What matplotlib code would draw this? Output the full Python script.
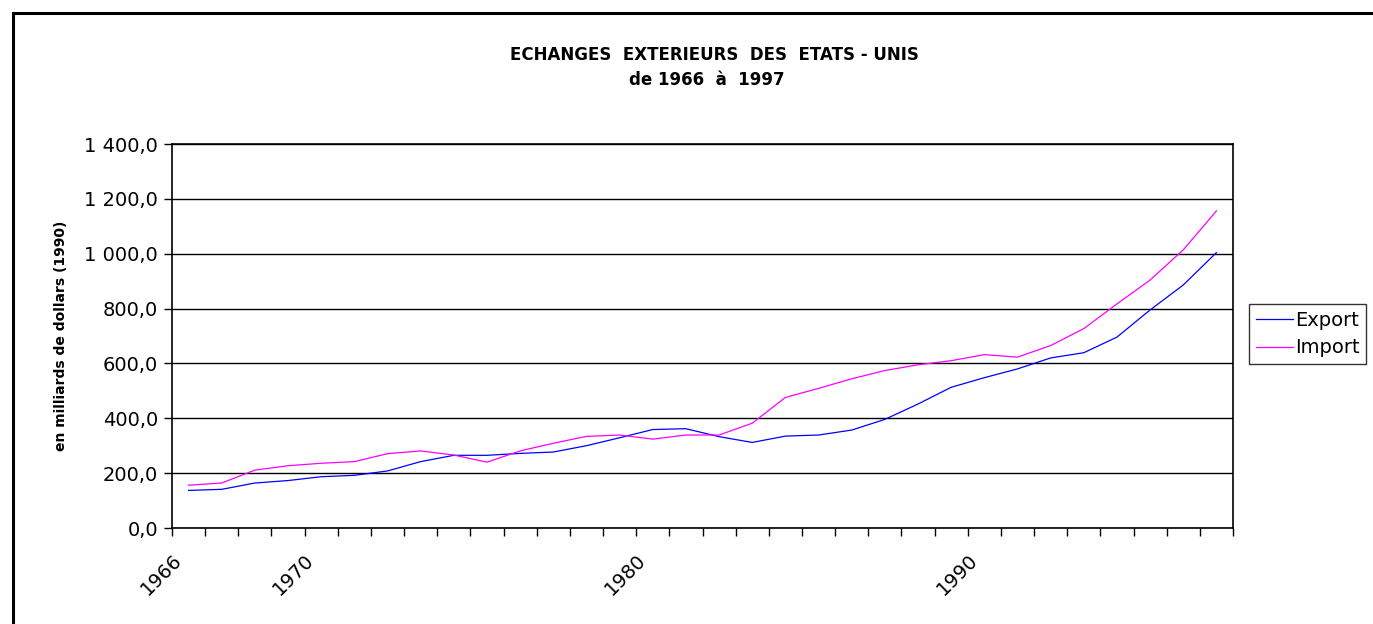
import matplotlib
matplotlib.use("Agg")
import matplotlib.pyplot as plt
from matplotlib.patches import Rectangle
from matplotlib.ticker import FuncFormatter

plt.rcParams["font.family"] = ["DejaVu Sans"]

# Données (milliards de dollars 1990)
years = list(range(1966, 1998))
export = [137, 141, 164, 173, 187, 192, 208, 242, 265, 265, 272, 277, 300, 329,
          359, 362, 333, 312, 335, 339, 357, 396, 452, 513, 548, 580, 620, 639,
          696, 795, 886, 1004]
imports = [156, 164, 211, 227, 236, 242, 271, 281, 266, 240, 281, 309, 334, 339,
           324, 339, 339, 382, 476, 509, 544, 574, 595, 610, 632, 623, 665, 727,
           817, 904, 1014, 1156]
label_years = [1966, 1970, 1980, 1990]
y_ticks = [0, 200, 400, 600, 800, 1000, 1200, 1400]

W, H = 1373, 624
fig = plt.figure(figsize=(W / 100, H / 100), dpi=100)

# cadre extérieur
fig.patches.append(Rectangle((13 / W, -0.05), 1.2, 1 - 13 / H + 0.05, transform=fig.transFigure,
                             fill=False, edgecolor="black", linewidth=2.2))

ax = fig.add_axes([172 / W, 1 - 528 / H, (1233 - 172) / W, (528 - 144) / H])
x = [i + 0.5 for i in range(len(years))]
ax.plot(x, export, color="#0000FF", linewidth=0.9, label="Export")
ax.plot(x, imports, color="#FF00FF", linewidth=0.9, label="Import")

ax.set_xlim(0, len(years))
ax.set_ylim(0, 1400)
ax.set_yticks(y_ticks)
ax.yaxis.set_major_formatter(FuncFormatter(lambda v, _: f"{v:,.1f}".replace(",", " ").replace(".", ",")))
ax.grid(axis="y", color="black", linewidth=1.0)
ax.set_axisbelow(True)

ax.set_xticks(range(len(years) + 1))
ax.set_xticklabels([str(years[0] + i) if (years[0] + i) in label_years else "" for i in range(len(years) + 1)],
                   rotation=45, ha="right", va="top", rotation_mode="anchor")
ax.tick_params(axis="both", direction="out", length=6, width=1, color="black", labelsize=14)
ax.tick_params(axis="x", pad=10)
ax.tick_params(axis="y", pad=4)
for s in ax.spines.values():
    s.set_color("black")
    s.set_linewidth(1.2)

ax.set_ylabel("en milliards de dollars (1990)", fontsize=10, fontweight="bold", labelpad=12)

fig.text(714 / W, 1 - 55 / H, "ECHANGES  EXTERIEURS  DES  ETATS - UNIS", ha="center", va="center",
         fontsize=12, fontweight="bold")
fig.text(707 / W, 1 - 80 / H, "de 1966  à  1997", ha="center", va="center",
         fontsize=12, fontweight="bold")

leg = ax.legend(loc="center left", bbox_to_anchor=(1249 / W, 1 - 334 / H), bbox_transform=fig.transFigure,
                fontsize=14, frameon=True, fancybox=False, edgecolor="black", borderpad=0.35,
                handlelength=1.9, handletextpad=0.1, labelspacing=0.45, borderaxespad=0)
leg.get_frame().set_linewidth(1.0)

fig.savefig("out.png", dpi=100)
